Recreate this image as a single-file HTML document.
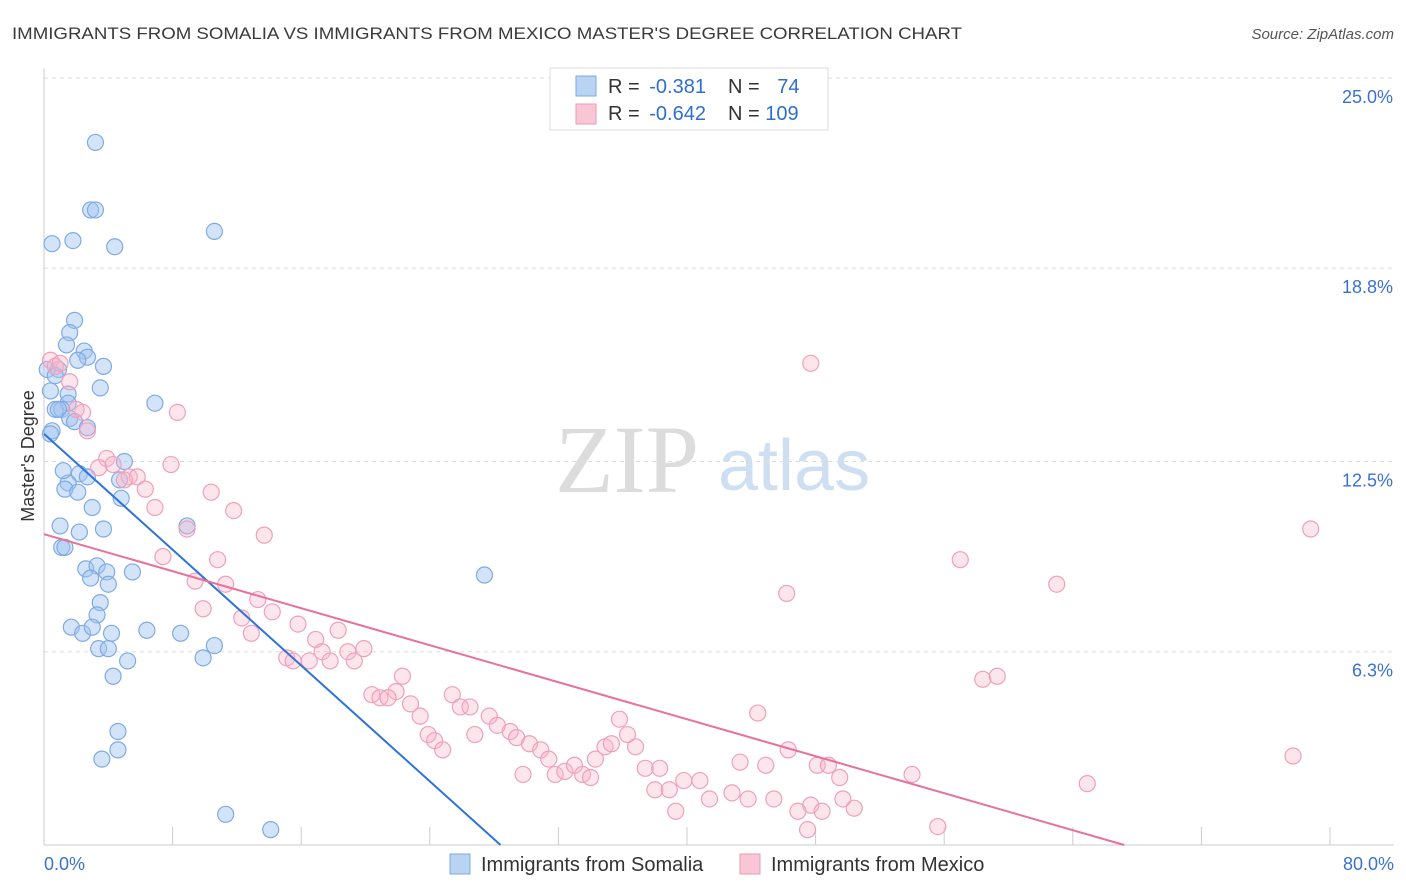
<!DOCTYPE html>
<html><head><meta charset="utf-8"><style>
body{margin:0;background:#fff;font-family:"Liberation Sans",sans-serif;}
svg{display:block}
</style></head><body>
<svg id="chart" width="1406" height="892">
<text x="12" y="39" font-size="17" fill="#3a3a3a" textLength="950" lengthAdjust="spacingAndGlyphs">IMMIGRANTS FROM SOMALIA VS IMMIGRANTS FROM MEXICO MASTER'S DEGREE CORRELATION CHART</text>
<text x="1394" y="39" font-size="15" fill="#555" font-style="italic" text-anchor="end">Source: ZipAtlas.com</text>
<g>
<text x="555" y="492" font-size="96" font-family="Liberation Serif,serif" fill="#dcdcdc">ZIP</text>
<text x="718" y="490" font-size="72" fill="#cfdff2">atlas</text>
</g>
<g id="grid"></g>
<g id="axes"></g>
<g id="marks"></g>
<g id="trends"></g>
<g>
<rect x="550" y="68" width="278" height="62" fill="#fff" stroke="#ddd"/>
<rect x="576" y="76" width="20" height="20" fill="#b9d3f3" stroke="#7fa9e0"/>
<rect x="576" y="104" width="20" height="20" fill="#f9c6d6" stroke="#ee9ab6"/>
<text x="608" y="93" font-size="20" fill="#333">R = <tspan fill="#2f6fd0" dx="4">-0.381</tspan></text>
<text x="728" y="93" font-size="20" fill="#333">N = <tspan fill="#2f6fd0" dx="12">74</tspan></text>
<text x="608" y="120" font-size="20" fill="#333">R = <tspan fill="#2f6fd0" dx="4">-0.642</tspan></text>
<text x="728" y="120" font-size="20" fill="#333">N = <tspan fill="#2f6fd0">109</tspan></text>
</g>
<g>
<rect x="450" y="854" width="20" height="20" fill="#b9d3f3" stroke="#7fa9e0"/>
<text x="481" y="871" font-size="20" fill="#333">Immigrants from Somalia</text>
<rect x="740" y="854" width="20" height="20" fill="#f9c6d6" stroke="#ee9ab6"/>
<text x="771" y="871" font-size="20" fill="#333">Immigrants from Mexico</text>
</g>
<text transform="translate(34,456) rotate(-90)" font-size="18" fill="#333" text-anchor="middle">Master's Degree</text>
</svg>
<script>
const yTicks=[6.3,12.5,18.8,25.0];
const yTickLabels=["6.3%","12.5%","18.8%","25.0%"];
const xTickLabels=["0.0%","80.0%"];
const somaliaX=[3.2,2.9,3.2,0.5,1.8,4.4,10.6,1.9,1.6,1.4,2.5,2.7,2.1,3.7,0.2,0.9,0.7,0.4,3.5,1.5,6.9,1.5,0.7,1.1,0.9,1.6,1.9,2.7,0.5,0.4,2.2,1.5,1.3,2.1,4.8,3.0,1.0,2.2,3.7,8.9,1.1,1.3,2.6,3.3,3.9,5.5,2.9,4.0,3.5,3.3,27.4,1.7,2.4,3.0,4.2,6.4,8.5,10.6,3.4,4.0,5.2,9.9,4.3,4.6,4.6,3.6,11.3,14.1,4.7,2.7,1.2,5.0];
const somaliaY=[22.9,20.7,20.7,19.6,19.7,19.5,20.0,17.1,16.7,16.3,16.1,15.9,15.8,15.6,15.5,15.5,15.3,14.8,14.9,14.7,14.4,14.4,14.2,14.2,14.2,13.9,13.8,13.6,13.5,13.4,12.1,11.8,11.6,11.5,11.3,11.0,10.4,10.2,10.3,10.4,9.7,9.7,9.0,9.1,8.9,8.9,8.7,8.5,7.9,7.5,8.8,7.1,6.9,7.1,6.9,7.0,6.9,6.5,6.4,6.4,6.0,6.1,5.5,3.7,3.1,2.8,1.0,0.5,11.9,12.0,12.2,12.5];
const mexicoX=[0.4,0.7,1.0,1.6,2.4,2.7,47.7,8.3,3.9,3.4,4.3,5.3,5.8,6.3,5.0,7.9,10.4,6.9,11.8,13.7,8.9,7.4,10.8,9.4,11.3,9.9,13.3,12.3,14.2,12.9,15.8,16.9,18.3,15.1,15.5,16.5,17.3,17.8,18.9,19.3,19.9,22.3,21.9,20.4,20.9,21.4,22.8,23.4,25.4,25.9,26.5,23.9,24.3,24.8,26.8,27.7,28.2,29.0,29.4,30.2,30.9,31.4,29.8,31.8,32.4,33.0,33.5,34.0,34.3,34.9,35.8,35.3,36.8,37.4,36.3,38.3,38.0,38.9,39.8,39.3,41.4,40.8,42.8,43.3,43.8,44.4,44.9,45.4,46.3,46.9,47.7,48.1,49.5,46.2,48.8,47.5,48.4,49.7,50.4,54.0,55.6,57.0,58.4,59.3,63.0,64.9,77.7,78.8,2.0];
const mexicoY=[15.8,15.6,15.7,15.1,14.1,13.5,15.7,14.1,12.6,12.3,12.4,12.0,12.0,11.6,11.9,12.4,11.5,11.0,10.9,10.1,10.3,9.4,9.3,8.6,8.5,7.7,8.0,7.4,7.6,6.9,7.2,6.7,7.0,6.1,6.0,6.0,6.3,6.0,6.3,6.0,6.4,5.5,5.0,4.9,4.8,4.8,4.6,4.2,4.9,4.5,4.5,3.6,3.4,3.1,3.6,4.2,3.9,3.7,3.5,3.3,3.1,2.8,2.3,2.3,2.4,2.6,2.3,2.2,2.8,3.2,4.1,3.3,3.2,2.5,3.6,2.5,1.8,1.8,2.1,1.1,1.5,2.1,1.7,2.7,1.5,4.3,2.6,1.5,3.1,1.1,1.3,2.6,2.2,8.2,2.6,0.5,1.1,1.5,1.2,2.3,0.6,9.3,5.4,5.5,8.5,2.0,2.9,10.3,14.2];
const trendX=[0,28.4];const somaliaTrendY=[13.4,0];
const mexicoTrendX=[0,67.2];const mexicoTrendY=[10.13,0];
const NS="http://www.w3.org/2000/svg";
const X0=44,X1=1330,YB=845,YT=78;
function xs(v){return X0+(X1-X0)*v/80;}
function ys(v){return YB-(YB-YT)*v/25;}
function mk(t,a,p){const e=document.createElementNS(NS,t);for(const k in a)e.setAttribute(k,a[k]);p.appendChild(e);return e;}
const grid=document.getElementById('grid'),axes=document.getElementById('axes'),marks=document.getElementById('marks'),trends=document.getElementById('trends');
yTicks.forEach((t,i)=>{
 const l=mk('line',{x1:X0,x2:1394,y1:ys(t),y2:ys(t),stroke:'#ddd','stroke-dasharray':'4,4'},grid);
 
 
 const tx=mk('text',{x:1393,y:ys(t)+25,'font-size':18,fill:'#3a72d0','text-anchor':'end'},axes);
 tx.textContent=yTickLabels[i];
 
 
});
const ax=mk('line',{x1:X0,x2:X0,y1:68,y2:YB,stroke:'#ccc'},axes);


const bx=mk('line',{x1:X0,x2:1394,y1:YB,y2:YB,stroke:'#ccc'},axes);


for(let i=0;i<=10;i++){const t=mk('line',{x1:xs(i*8),x2:xs(i*8),y1:YB,y2:YB-18,stroke:'#ccc'},axes);
 
 }
[[0,'start',44],[80,'end',1394]].forEach((d,i)=>{const t=mk('text',{x:d[2],y:870,'font-size':18,fill:'#3a72d0','text-anchor':d[1]},axes);t.textContent=xTickLabels[i];
 
 });
somaliaX.forEach((v,i)=>{const c=mk('circle',{cx:xs(v),cy:ys(somaliaY[i]),r:8,fill:'rgba(160,196,240,0.45)',stroke:'#7faae4','stroke-width':1.2},marks);
 
 });
mexicoX.forEach((v,i)=>{const c=mk('circle',{cx:xs(v),cy:ys(mexicoY[i]),r:8,fill:'rgba(248,180,200,0.35)',stroke:'#f0a0bc','stroke-width':1.2},marks);
 
 });
const t1=mk('line',{x1:xs(trendX[0]),y1:ys(somaliaTrendY[0]),x2:xs(trendX[1]),y2:ys(somaliaTrendY[1]),stroke:'#2f74d8','stroke-width':2},trends);


const t2=mk('line',{x1:xs(mexicoTrendX[0]),y1:ys(mexicoTrendY[0]),x2:xs(mexicoTrendX[1]),y2:ys(mexicoTrendY[1]),stroke:'#e8709a','stroke-width':2},trends);


</script>
</body></html>
